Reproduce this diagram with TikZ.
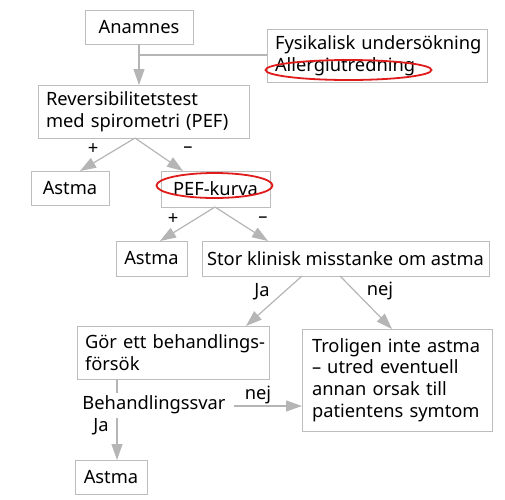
\documentclass[tikz,border=0pt]{standalone}
\usepackage{fontspec}
\setmainfont{Noto Sans}
\usetikzlibrary{arrows.meta,shapes.geometric}
\definecolor{boxgray}{HTML}{BDBDBD}
\definecolor{arrgray}{HTML}{B5B5B5}
\definecolor{ringred}{HTML}{E01B1B}
\tikzset{
  box/.style={draw=boxgray, line width=1pt, inner sep=0pt, font=\fontsize{18.3}{21.7}\selectfont},
  lbox/.style={box, align=left},
  conn/.style={draw=arrgray, line width=1.2pt},
  arr/.style={conn, -{Triangle[length=16pt,width=11pt]}},
  lab/.style={font=\fontsize{18.3}{21.7}\selectfont, inner sep=0pt},
  signlab/.style={font=\fontsize{18.3}{21.7}\selectfont\bfseries, inner sep=0pt},
  ring/.style={draw=ringred, line width=1.8pt, ellipse, inner sep=0pt}
}
\begin{document}
\begin{tikzpicture}[x=1pt,y=-1pt]
\useasboundingbox (0,0) rectangle (505,499);
\node[box, minimum width=108pt, minimum height=34pt] (anam) at (139,27) {Anamnes};
\node[lbox, minimum width=220pt, minimum height=53pt, text width=204pt] (fys) at (377,55.5) {\mbox{Fysikalisk undersökning}\\Allergiutredning};
\node[lbox, minimum width=211pt, minimum height=53pt, text width=195pt] (rev) at (143.5,111.5) {Reversibilitetstest\\\mbox{med spirometri (PEF)}};
\node[box, minimum width=78pt, minimum height=34pt] (ast1) at (70,188) {Astma};
\node[box, minimum width=109pt, minimum height=36pt] (pef) at (215.5,189) {PEF-kurva};
\node[box, minimum width=71pt, minimum height=35pt] (ast2) at (151.5,258.5) {Astma};
\node[box, minimum width=287pt, minimum height=35pt] (stor) at (345.5,258.5) {Stor klinisk misstanke om astma};
\node[lbox, minimum width=192pt, minimum height=53pt, text width=176pt] (gor) at (173,352.5) {\mbox{Gör ett behandlings-}\\försök};
\node[lbox, minimum width=190pt, minimum height=102pt, text width=170pt] (trol) at (397,380) {\mbox{Troligen inte astma}\\\mbox{– utred eventuell}\\\mbox{annan orsak till}\\\mbox{patientens symtom}};
\node[box, minimum width=72pt, minimum height=34pt] (ast3) at (111,477) {Astma};
\node[lab] (svar) at (154,405) {Behandlingssvar};
% rings
\node[ring, minimum width=166pt, minimum height=20pt] (ring1) at (348.5,70) {};
\node[ring, minimum width=116pt, minimum height=25pt] (ring2) at (214.5,185.5) {};
% connectors
\coordinate (a1) at (139,44);
\coordinate (a1e) at (139,85);
\coordinate (a2) at (139,55);
\coordinate (a2e) at (267,55);
\draw[arr] (a1) -- (a1e);
\draw[conn] (a2) -- (a2e);
\coordinate (r0) at (135,138);
\coordinate (r1) at (80,171);
\coordinate (r2) at (183,171);
\draw[arr] (r0) -- (r1);
\draw[arr] (r0) -- (r2);
\node[signlab] (p1) at (93,149) {+};
\node[lab] (m1) at (188,150) {–};
\coordinate (p0) at (215,207);
\coordinate (pe1) at (160,241);
\coordinate (pe2) at (268,241);
\draw[arr] (p0) -- (pe1);
\draw[arr] (p0) -- (pe2);
\node[signlab] (p2) at (173,219) {+};
\node[lab] (m2) at (263,220) {–};
\coordinate (s1) at (302,276);
\coordinate (s2) at (340,276);
\coordinate (se1) at (246,326);
\coordinate (se2) at (392,329);
\draw[arr] (s1) -- (se1);
\draw[arr] (s2) -- (se2);
\node[lab] (ja1) at (262,292) {Ja};
\node[lab] (nej1) at (380,291) {nej};
\coordinate (g0) at (117,379);
\coordinate (g1) at (117,393);
\coordinate (g2) at (117,418);
\coordinate (g3) at (117,460);
\draw[conn] (g0) -- (g1);
\draw[arr] (g2) -- (g3);
\node[lab] (ja2) at (101,427) {Ja};
\coordinate (h0) at (234,406);
\coordinate (h1) at (302,406);
\draw[arr] (h0) -- (h1);
\node[lab] (nej2) at (258,395) {nej};
\end{tikzpicture}
\end{document}
